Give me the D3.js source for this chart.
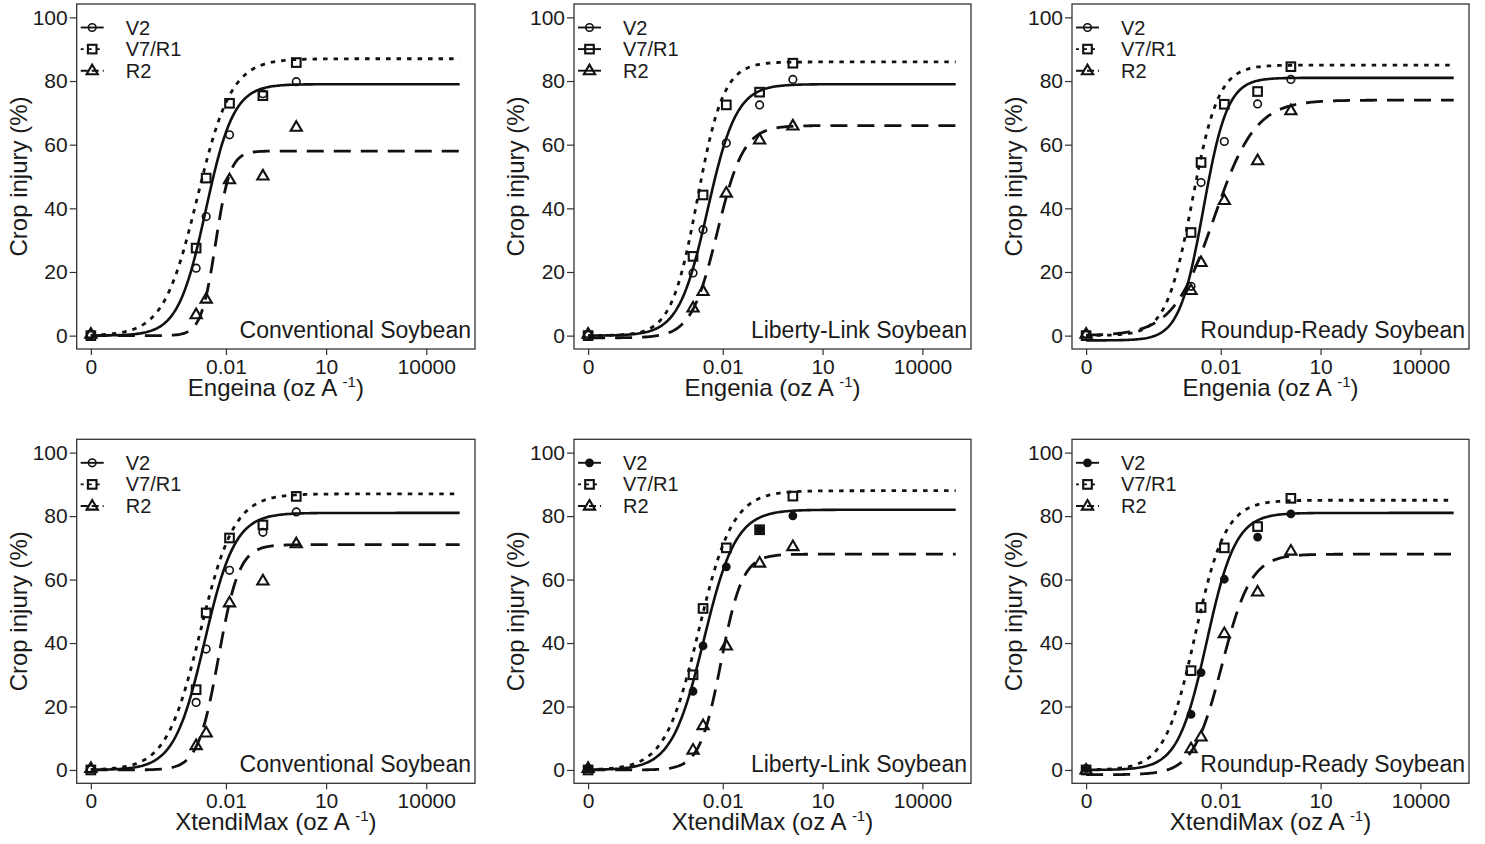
<!DOCTYPE html>
<html>
<head>
<meta charset="utf-8">
<script src="https://cdn.jsdelivr.net/npm/d3@7"></script>
<style>
  body { margin: 0; background: #fff; }
  text { font-family: Arial, "Liberation Sans", sans-serif; fill: #1a1a1a; }
</style>
</head>
<body>
<div id="chart"></div>
<script>
// doses (oz A-1); the untreated check (0) sits at zeroDose on the log axis
const doses = [0, 0.00128, 0.00256, 0.0128, 0.128, 1.28];
const zeroDose = 9e-7;
const curveEnd = 1e5;
const xTickValues = [zeroDose, 0.01, 10, 10000];
const xTickLabels = ["0", "0.01", "10", "10000"];
const yTickValues = [0, 20, 40, 60, 80, 100];

const stages = ["V2", "V7/R1", "R2"];
const crops = ["Conventional Soybean", "Liberty-Link Soybean", "Roundup-Ready Soybean",
               "Conventional Soybean", "Liberty-Link Soybean", "Roundup-Ready Soybean"];
const products = ["Engeina", "Engenia", "Engenia", "XtendiMax", "XtendiMax", "XtendiMax"];

// crop injury (%) for each dose, rows = V2, V7/R1, R2
const engConventional = [
  [0.3, 21.2, 37.4, 63.1, 76.0, 79.8],
  [0.0, 27.5, 49.5, 73.0, 75.4, 85.8],
  [0.5, 6.6, 11.5, 49.0, 50.2, 65.5]
];
const engLiberty = [
  [0.5, 19.7, 33.3, 60.5, 72.5, 80.5],
  [0.0, 24.9, 44.2, 72.5, 76.5, 85.6],
  [0.5, 8.7, 13.9, 44.8, 61.5, 65.9]
];
const engRoundup = [
  [0.5, 15.5, 48.1, 61.0, 72.8, 80.5],
  [0.0, 32.4, 54.4, 72.7, 76.7, 84.5],
  [0.5, 14.2, 23.0, 42.5, 55.0, 70.7]
];
const xtdConventional = [
  [0.3, 21.3, 38.1, 62.9, 74.9, 81.3],
  [0.0, 25.3, 49.5, 73.1, 77.2, 86.2],
  [0.5, 7.7, 11.7, 52.7, 59.6, 71.3]
];
const xtdLiberty = [
  [0.5, 24.8, 39.1, 64.0, 75.7, 80.1],
  [0.0, 30.0, 50.9, 70.0, 75.7, 86.3],
  [0.5, 6.3, 14.0, 39.1, 65.2, 70.4]
];
const xtdRoundup = [
  [0.5, 17.5, 30.7, 60.1, 73.4, 80.7],
  [0.0, 31.3, 51.2, 70.0, 76.7, 85.6],
  [0.0, 6.7, 10.4, 43.0, 56.1, 69.0]
];

// fitted log-logistic curves, [lower, upper, ED50, slope] per stage
const engConventionalFit = [[0, 79, 0.0025, 1.04], [0, 87, 0.0014, 0.85], [0, 58, 0.0049, 2.0]];
const engLibertyFit      = [[0, 79, 0.0035, 1.0],  [0, 86, 0.00174, 1.1], [-0.7, 66, 0.0069, 1.1]];
const engRoundupFit      = [[-1.5, 81, 0.003, 1.2], [0, 85, 0.0014, 1.1], [0, 74, 0.0063, 0.7]];
const xtdConventionalFit = [[0, 81, 0.0023, 0.95], [0, 87, 0.0017, 0.85], [0, 71, 0.006, 1.4]];
const xtdLibertyFit      = [[0, 82, 0.0027, 0.9],  [0, 88, 0.0019, 0.85], [0, 68, 0.0089, 1.35]];
const xtdRoundupFit      = [[0, 81, 0.0038, 1.0],  [0, 85, 0.0017, 0.95], [-1.5, 68, 0.011, 1.0]];

const panelValues = [engConventional, engLiberty, engRoundup, xtdConventional, xtdLiberty, xtdRoundup];
const panelFits = [engConventionalFit, engLibertyFit, engRoundupFit, xtdConventionalFit, xtdLibertyFit, xtdRoundupFit];

const width = 1485, height = 844;
const lefts = [76.7, 574, 1072], rights = [475, 971, 1469];
const tops = [4, 439.3], bottoms = [349, 783.3];
const fontStack = "Arial, 'Liberation Sans', sans-serif";

const lineStyles = [
  { dash: null, width: 2.6 },
  { dash: "4.5,6", width: 2.8 },
  { dash: "17,10", width: 2.8 }
];

const svg = d3.select("#chart").append("svg")
  .attr("width", width)
  .attr("height", height);

function marker(g, stage, filled, x, y) {
  if (stage === 0) {
    g.append("circle").attr("cx", x).attr("cy", y).attr("r", filled ? 3.6 : 3.8)
      .attr("fill", filled ? "#111" : "none").attr("stroke", "#111").attr("stroke-width", 1.6);
  } else if (stage === 1) {
    g.append("rect").attr("x", x - 4.3).attr("y", y - 4.3).attr("width", 8.6).attr("height", 8.6)
      .attr("fill", "none").attr("stroke", "#111").attr("stroke-width", 2.1);
  } else {
    g.append("path").attr("transform", `translate(${x},${y})`)
      .attr("d", "M0,-6L5.6,3.6L-5.6,3.6Z")
      .attr("fill", "none").attr("stroke", "#111").attr("stroke-width", 2.1);
  }
}

panelValues.forEach((values, p) => {
  const col = p % 3, row = Math.floor(p / 3);
  const L = lefts[col], R = rights[col], T = tops[row], B = bottoms[row];
  const filledV2 = p >= 4;
  const solidLegend = p === 1;

  const x = d3.scaleLog().domain([Math.pow(10, -6.47), Math.pow(10, 5.46)]).range([L, R]);
  const y = d3.scaleLinear().domain([-4.2, 104.2]).range([B, T]);
  const doseX = d => x(d === 0 ? zeroDose : d);

  const g = svg.append("g");

  // fitted curves
  const lo = Math.log10(zeroDose), hi = Math.log10(curveEnd);
  const grid = d3.range(0, 241).map(i => Math.pow(10, lo + i / 240 * (hi - lo)));
  panelFits[p].forEach((f, s) => {
    const [c, d, e, b] = f;
    const line = d3.line()
      .x(v => x(v))
      .y(v => y(c + (d - c) / (1 + Math.pow(e / v, b))));
    g.append("path")
      .attr("d", line(grid))
      .attr("fill", "none")
      .attr("stroke", "#111")
      .attr("stroke-width", lineStyles[s].width)
      .attr("stroke-dasharray", lineStyles[s].dash);
  });

  // observed means
  values.forEach((series, s) => {
    series.forEach((v, i) => marker(g, s, s === 0 && filledV2, doseX(doses[i]), y(v)));
  });

  // frame
  g.append("rect").attr("x", L).attr("y", T).attr("width", R - L).attr("height", B - T)
    .attr("fill", "none").attr("stroke", "#333").attr("stroke-width", 1.3);

  // y axis
  const ya = g.append("g").attr("transform", `translate(${L},0)`)
    .call(d3.axisLeft(y).tickValues(yTickValues).tickSize(7).tickPadding(2));
  ya.select(".domain").remove();
  ya.selectAll("line").attr("stroke", "#333").attr("stroke-width", 1.2);
  ya.selectAll("text").attr("font-size", 21).attr("fill", "#1a1a1a").attr("font-family", fontStack);

  // x axis
  const xa = g.append("g").attr("transform", `translate(0,${B})`)
    .call(d3.axisBottom(x).tickValues(xTickValues).tickFormat((d, i) => xTickLabels[i]).tickSize(6).tickPadding(4));
  xa.select(".domain").remove();
  xa.selectAll("line").attr("stroke", "#333").attr("stroke-width", 1.2);
  xa.selectAll("text").attr("font-size", 21).attr("fill", "#1a1a1a").attr("font-family", fontStack);

  // axis titles
  const xt = g.append("text").attr("x", (L + R) / 2).attr("y", B + 47)
    .attr("text-anchor", "middle").attr("font-size", 24);
  xt.append("tspan").text(products[p] + " (oz A ");
  xt.append("tspan").attr("font-size", 15).attr("dy", -9).text("-1");
  xt.append("tspan").attr("dy", 9).text(")");

  g.append("text")
    .attr("transform", `translate(${L - 50},${(T + B) / 2}) rotate(-90)`)
    .attr("text-anchor", "middle").attr("font-size", 24)
    .text("Crop injury (%)");

  // crop label
  g.append("text").attr("x", R - 4).attr("y", B - 11)
    .attr("text-anchor", "end").attr("font-size", 23)
    .text(crops[p]);

  // legend
  stages.forEach((name, s) => {
    const ly = T + 23.5 + s * 21.6;
    g.append("line").attr("x1", L + 4).attr("x2", L + 27).attr("y1", ly).attr("y2", ly)
      .attr("stroke", "#111").attr("stroke-width", 1.9)
      .attr("stroke-dasharray", solidLegend || s === 0 ? null : (s === 1 ? "3,5" : "7,4"));
    marker(g, s, s === 0 && filledV2, L + 15.5, ly);
    g.append("text").attr("x", L + 49).attr("y", ly + 7).attr("font-size", 20).text(name);
  });
});
</script>
</body>
</html>
